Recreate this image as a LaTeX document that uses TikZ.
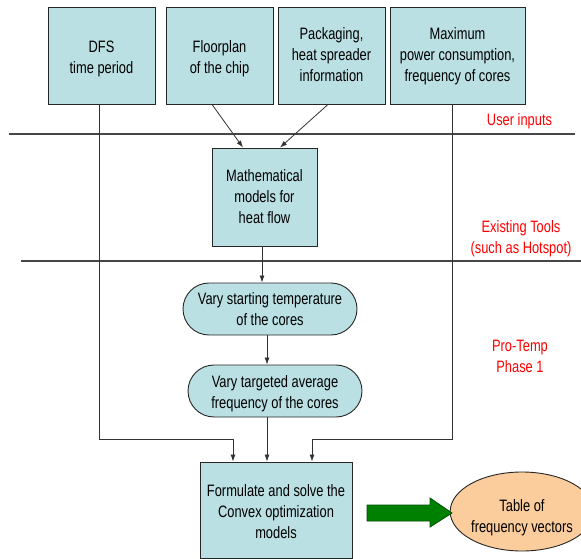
\documentclass[tikz,border=0pt]{standalone}
\usepackage{fontspec}
\setmainfont{Liberation Sans}[FakeStretch=0.78]
\usetikzlibrary{arrows.meta,calc,shapes.geometric}
\definecolor{boxfill}{RGB}{187,224,227}
\definecolor{orangefill}{RGB}{251,204,156}
\definecolor{arrowgreen}{RGB}{0,128,0}
\definecolor{arrowedge}{RGB}{0,80,0}
\definecolor{linegray}{RGB}{70,70,70}
\newcommand\Ttext[2]{\raisebox{-#1}[0pt][0pt]{\begin{tabular}{@{}c@{}}#2\end{tabular}}}
\tikzset{
  box/.style={draw=black!85, fill=boxfill, line width=0.9pt, align=center, inner sep=0pt},
  stad/.style={box, rounded corners=26pt},
  arr/.style={draw=black!80, line width=0.8pt, -{Latex[length=7pt,width=5pt]}},
  sepline/.style={draw=linegray, line width=1.1pt},
  lab/.style={text=red, align=center, inner sep=0pt},
}
\begin{document}
\begin{tikzpicture}[x=1pt,y=-1pt, font=\fontsize{16.5}{21}\selectfont]
\useasboundingbox (0,0) rectangle (581,559);
% separator lines
\coordinate (s1a) at (9,134);
\coordinate (s1b) at (575,134);
\coordinate (s2a) at (21,261);
\coordinate (s2b) at (581,261);
\draw[sepline] (s1a) -- (s1b);
\draw[sepline] (s2a) -- (s2b);
% input boxes
\node[box, minimum width=107pt, minimum height=97pt] (dfs) at (101.5,55.5) {\Ttext{7.5pt}{DFS\\time period}};
\node[box, minimum width=107pt, minimum height=97pt] (fp) at (219.5,55.5) {\Ttext{7.5pt}{Floorplan\\of the chip}};
\node[box, minimum width=107pt, minimum height=97pt] (pk) at (331.5,55.5) {\Ttext{5pt}{Packaging,\\heat spreader\\information}};
\node[box, minimum width=135pt, minimum height=97pt] (mx) at (457.5,55.5) {\Ttext{5pt}{Maximum\\power consumption,\\frequency of cores}};
% middle
\node[box, minimum width=105pt, minimum height=98pt] (math) at (264.5,197) {\Ttext{6pt}{Mathematical\\models for\\heat flow}};
\node[stad, minimum width=174pt, minimum height=52pt] (v1) at (270,309) {\Ttext{6.5pt}{Vary starting temperature\\of the cores}};
\node[stad, minimum width=174pt, minimum height=52pt] (v2) at (275,391) {\Ttext{7pt}{Vary targeted average\\frequency of the cores}};
\node[box, minimum width=152pt, minimum height=96pt] (fin) at (276,510) {\Ttext{7.5pt}{Formulate and solve the\\Convex optimization\\models}};
\node[ellipse, draw=black!85, line width=0.9pt, fill=orangefill, minimum width=118pt, minimum height=79pt, inner sep=0pt, align=center] (tab) at (522,511.5) {\Ttext{10.5pt}{Table of\\frequency vectors}};
% labels
\node[lab] (l1) at (519.5,121) {User inputs};
\node[lab] (l2) at (521,238.5) {Existing Tools\\(such as Hotspot)};
\node[lab] (l3) at (520,356) {Pro-Temp\\Phase 1};
% connectors
\draw[arr] ($(fp.south)+(-7.5,0)$) -- ($(math.north)+(-21.5,0)$);
\draw[arr] ($(pk.south)+(-3.5,0)$) -- ($(math.north)+(15.5,0)$);
\draw[arr] ($(math.south)+(-2.5,0)$) -- ($(v1.north)+(-8,0)$);
\draw[arr] ($(v1.south)+(-3,0)$) -- ($(v2.north)+(-8,0)$);
\coordinate (j1) at (233,439);
\coordinate (j2) at (267,439);
\coordinate (j3) at (312,439);
\draw[arr] ($(dfs.south)+(-2.5,0)$) |- (j1) -- (j1 |- fin.north);
\draw[arr] ($(v2.south)+(-8,0)$) -- (j2 |- fin.north);
\draw[arr] ($(mx.south)+(-5.5,0)$) |- (j3) -- (j3 |- fin.north);
% green block arrow
\draw[draw=arrowedge, fill=arrowgreen, line width=0.8pt]
  (367,505) -- (430,505) -- (430,498) -- (452,513) -- (430,527) -- (430,521) -- (367,521) -- cycle;
\end{tikzpicture}
\end{document}
